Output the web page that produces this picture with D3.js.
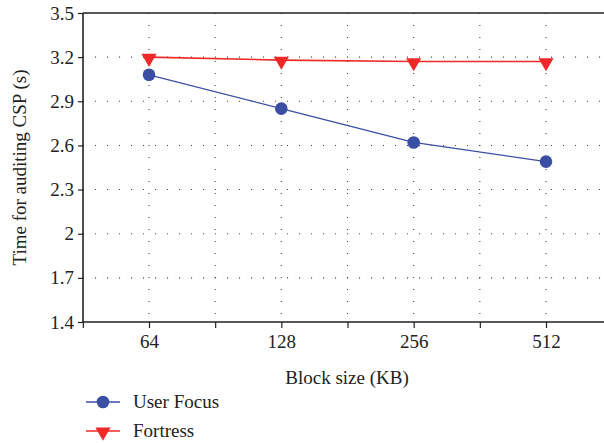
<!DOCTYPE html>
<html>
<head>
<meta charset="utf-8">
<script src="https://cdnjs.cloudflare.com/ajax/libs/d3/7.8.5/d3.min.js"></script>
<style>
  body { margin: 0; background: #fff; }
</style>
</head>
<body>
<svg id="chart" width="604" height="443"></svg>
<script>
var blockSizes = ["64", "128", "256", "512"];
var userFocus = [3.08, 2.85, 2.62, 2.49];
var fortress = [3.20, 3.18, 3.17, 3.17];
var yTicks = [1.4, 1.7, 2, 2.3, 2.6, 2.9, 3.2, 3.5];

var svg = d3.select("#chart");
var plotLeft = 83, plotRight = 604, plotTop = 13, plotBottom = 322;
var fontSize = "19px";
var fontFamily = "'Liberation Serif', serif";

// categories sit on index positions, half a step of padding on the left
var x = d3.scaleLinear().domain([0, 3]).range([149, 546]);
var y = d3.scaleLinear().domain([1.4, 3.5]).range([plotBottom, plotTop]);

// dotted grid
var grid = svg.append("g").attr("class", "grid");
grid.selectAll("line.h")
    .data(yTicks.slice(1, -1))
    .enter().append("line")
    .attr("x1", plotLeft).attr("x2", plotRight)
    .attr("y1", function(d) { return y(d); })
    .attr("y2", function(d) { return y(d); });
grid.selectAll("line.v")
    .data(d3.range(0, 3.01, 0.5))
    .enter().append("line")
    .attr("y1", plotTop).attr("y2", plotBottom)
    .attr("x1", function(d) { return x(d); })
    .attr("x2", function(d) { return x(d); });
grid.selectAll("line")
    .attr("stroke", "#444")
    .attr("stroke-width", 1.1)
    .attr("stroke-dasharray", "1.1,10.9");

// axes
var yAxis = d3.axisLeft(y).tickValues(yTicks).tickSize(5).tickPadding(4)
    .tickFormat(function(d) { return d3.format("")(d); });
var gy = svg.append("g").attr("transform", "translate(" + plotLeft + ",0)").call(yAxis);
gy.select(".domain").remove();
gy.append("line").attr("class", "ax").attr("x1", 0).attr("x2", 0).attr("y1", plotTop).attr("y2", plotBottom);

var xAxis = d3.axisBottom(x).tickValues(d3.range(-0.5, 3.01, 0.5)).tickSize(6).tickPadding(7)
    .tickFormat(function(d) { return Number.isInteger(d) ? blockSizes[d] : ""; });
var gx = svg.append("g").attr("transform", "translate(0," + plotBottom + ")").call(xAxis);
gx.select(".domain").remove();
gx.append("line").attr("class", "ax").attr("x1", plotLeft).attr("x2", plotRight).attr("y1", 0).attr("y2", 0);

svg.append("line").attr("class", "ax")
    .attr("x1", plotLeft).attr("x2", plotRight).attr("y1", plotTop).attr("y2", plotTop);

svg.selectAll("line.ax").attr("stroke", "#222").attr("stroke-width", 1.6);
svg.selectAll(".tick line").attr("stroke", "#222").attr("stroke-width", 1.2);
gy.attr("font-family", null).attr("font-size", null);
gx.attr("font-family", null).attr("font-size", null);

// axis titles
svg.append("text")
    .attr("x", 347).attr("y", 384)
    .attr("text-anchor", "middle")
    .text("Block size (KB)");
svg.append("text")
    .attr("transform", "translate(26," + ((plotTop + plotBottom) / 2) + ") rotate(-90)")
    .attr("text-anchor", "middle")
    .text("Time for auditing CSP (s)");

// series
var line = d3.line()
    .x(function(d, i) { return x(i); })
    .y(function(d) { return y(d); });

var blue = "#3a4fa3", red = "#f02828";
var tri = d3.symbol().type(d3.symbolTriangle).size(100);

svg.append("path").datum(userFocus).attr("d", line)
    .attr("fill", "none").attr("stroke", blue).attr("stroke-width", 1.3);
svg.append("path").datum(fortress).attr("d", line)
    .attr("fill", "none").attr("stroke", red).attr("stroke-width", 1.6);

svg.selectAll("circle.uf").data(userFocus).enter().append("circle")
    .attr("cx", function(d, i) { return x(i); })
    .attr("cy", function(d) { return y(d); })
    .attr("r", 6.3).attr("fill", blue);
svg.selectAll("path.ft").data(fortress).enter().append("path")
    .attr("d", tri)
    .attr("transform", function(d, i) { return "translate(" + x(i) + "," + (y(d) + 1) + ") rotate(180)"; })
    .attr("fill", red);

// legend
var legend = [
  { name: "User Focus", color: blue, shape: "circle" },
  { name: "Fortress", color: red, shape: "tri" }
];
var lg = svg.selectAll("g.legend").data(legend).enter().append("g")
    .attr("transform", function(d, i) { return "translate(86," + (402 + i * 29) + ")"; });
lg.append("line").attr("x1", 0).attr("x2", 34).attr("y1", 0).attr("y2", 0)
    .attr("stroke", function(d) { return d.color; }).attr("stroke-width", 1.5);
lg.each(function(d) {
  var g = d3.select(this);
  if (d.shape === "circle") {
    g.append("circle").attr("cx", 17).attr("cy", 0).attr("r", 6.3).attr("fill", d.color);
  } else {
    g.append("path").attr("d", tri).attr("transform", "translate(17,1) rotate(180)").attr("fill", d.color);
  }
});
lg.append("text").attr("x", 47).attr("y", 6)
    .text(function(d) { return d.name; });

svg.selectAll("text")
    .style("font-family", fontFamily)
    .style("font-size", fontSize)
    .attr("fill", "#222");
</script>
</body>
</html>
